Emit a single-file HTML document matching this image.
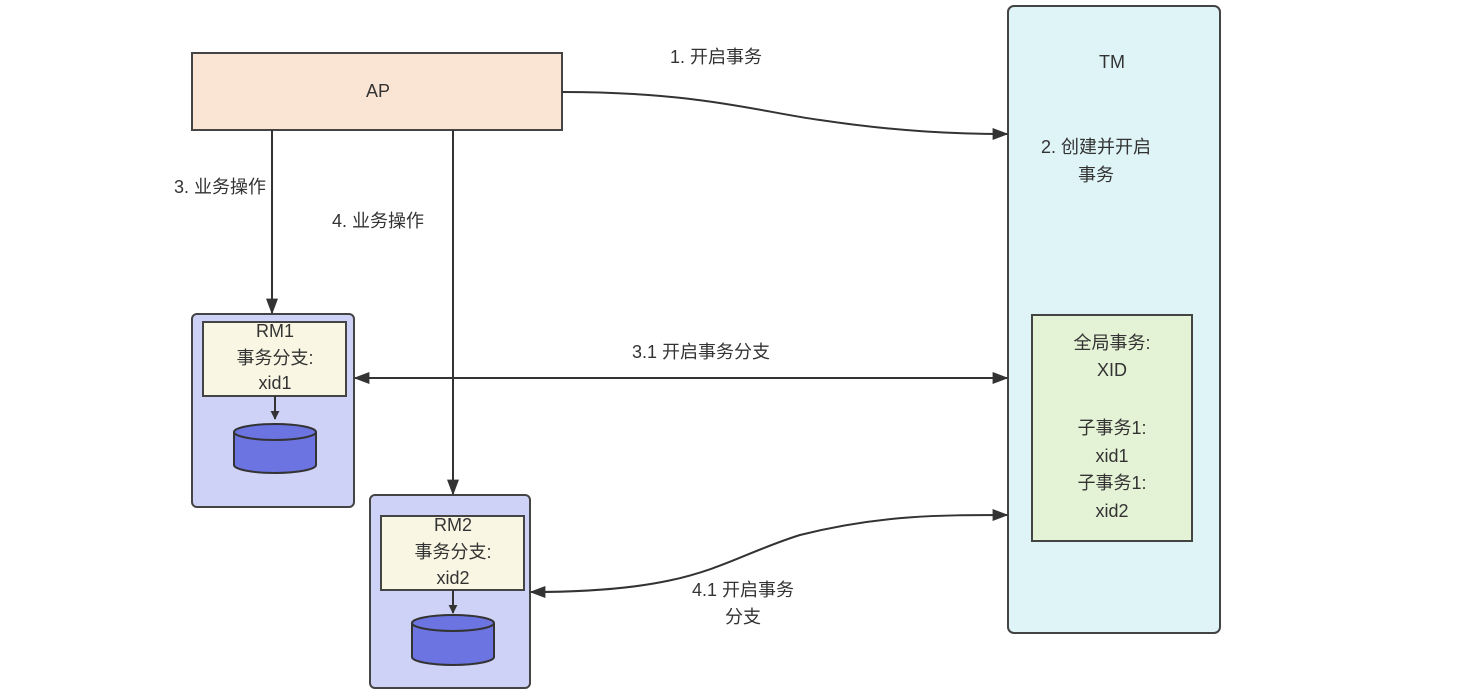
<!DOCTYPE html>
<html><head><meta charset="utf-8"><style>
html,body{margin:0;padding:0;background:#fff;}
svg{display:block;}
text{font-family:"Liberation Sans","Noto Sans CJK SC",sans-serif;font-size:18px;fill:#333;text-anchor:middle;}
</style></head><body>
<svg width="1463" height="698" viewBox="0 0 1463 698" xmlns="http://www.w3.org/2000/svg">
<defs>
<marker id="a" viewBox="0 0 10 10" refX="9" refY="5" markerWidth="9" markerHeight="9" markerUnits="userSpaceOnUse" orient="auto-start-reverse">
<path d="M0,0 L10,5 L0,10 z" fill="#333"/></marker>
<marker id="b" viewBox="0 0 10 10" refX="9" refY="5" markerWidth="16" markerHeight="12" markerUnits="userSpaceOnUse" orient="auto-start-reverse" preserveAspectRatio="none">
<path d="M0,0 L10,5 L0,10 z" fill="#333"/></marker>
</defs>
<!-- TM -->
<rect x="1008" y="6" width="212" height="627" rx="6" fill="#dff4f7" stroke="#444" stroke-width="2"/>
<text x="1112" y="68">TM</text>
<text x="1096" y="153">2. 创建并开启</text>
<text x="1096" y="181">事务</text>
<rect x="1032" y="315" width="160" height="226" fill="#e4f2d6" stroke="#444" stroke-width="2"/>
<text x="1112" y="349">全局事务:</text>
<text x="1112" y="376">XID</text>
<text x="1112" y="434">子事务1:</text>
<text x="1112" y="462">xid1</text>
<text x="1112" y="489">子事务1:</text>
<text x="1112" y="517">xid2</text>
<!-- AP -->
<rect x="192" y="53" width="370" height="77" fill="#fae5d5" stroke="#444" stroke-width="2"/>
<text x="378" y="97">AP</text>
<!-- RM1 -->
<rect x="192" y="314" width="162" height="193" rx="5" fill="#cfd2f7" stroke="#444" stroke-width="2"/>
<rect x="203" y="322" width="143" height="74" fill="#f9f7e3" stroke="#444" stroke-width="2"/>
<text x="275" y="337">RM1</text>
<text x="275" y="364">事务分支:</text>
<text x="275" y="389">xid1</text>
<line x1="275" y1="396" x2="275" y2="419" stroke="#333" stroke-width="2" marker-end="url(#a)"/>
<path d="M234,432 L234,465 A41,8 0 0 0 316,465 L316,432" fill="#6b74e0" stroke="#333" stroke-width="2"/>
<ellipse cx="275" cy="432" rx="41" ry="8" fill="#6b74e0" stroke="#333" stroke-width="2"/>
<!-- RM2 -->
<rect x="370" y="495" width="160" height="193" rx="5" fill="#cfd2f7" stroke="#444" stroke-width="2"/>
<rect x="381" y="516" width="143" height="74" fill="#f9f7e3" stroke="#444" stroke-width="2"/>
<text x="453" y="531">RM2</text>
<text x="453" y="558">事务分支:</text>
<text x="453" y="584">xid2</text>
<line x1="453" y1="590" x2="453" y2="613" stroke="#333" stroke-width="2" marker-end="url(#a)"/>
<path d="M412,623 L412,657 A41,8 0 0 0 494,657 L494,623" fill="#6b74e0" stroke="#333" stroke-width="2"/>
<ellipse cx="453" cy="623" rx="41" ry="8" fill="#6b74e0" stroke="#333" stroke-width="2"/>
<!-- connectors -->
<line x1="272" y1="130" x2="272" y2="313" stroke="#333" stroke-width="2" marker-end="url(#b)"/>
<line x1="453" y1="130" x2="453" y2="494" stroke="#333" stroke-width="2" marker-end="url(#b)"/>
<text x="220" y="193">3. 业务操作</text>
<text x="378" y="227">4. 业务操作</text>
<path d="M562,92 C700,92 760,112 820,120 C900,132 960,134 1007,134" fill="none" stroke="#333" stroke-width="2" marker-end="url(#b)"/>
<text x="716" y="63">1. 开启事务</text>
<line x1="355" y1="378" x2="1007" y2="378" stroke="#333" stroke-width="2" marker-start="url(#b)" marker-end="url(#b)"/>
<text x="701" y="358">3.1 开启事务分支</text>
<path d="M531,592 C700,592 720,560 800,535 C880,515 940,515 1007,515" fill="none" stroke="#333" stroke-width="2" marker-start="url(#b)" marker-end="url(#b)"/>
<text x="743" y="596">4.1 开启事务</text>
<text x="743" y="623">分支</text>
</svg>
</body></html>
